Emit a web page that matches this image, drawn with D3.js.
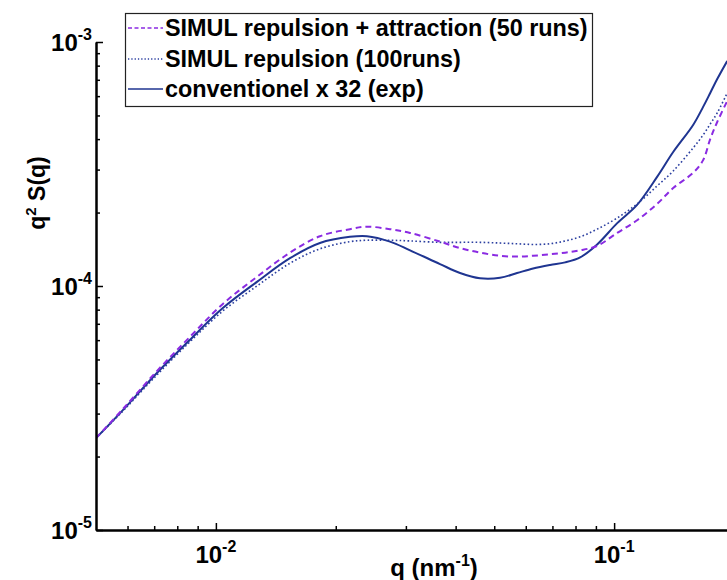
<!DOCTYPE html>
<html>
<head>
<meta charset="utf-8">
<script src="https://cdn.jsdelivr.net/npm/d3@7"></script>
<style>
  html, body { margin: 0; padding: 0; background: #fff; }
  svg { display: block; }
  text { font-family: "Liberation Sans", Arial, sans-serif; font-weight: bold; fill: #000; }
</style>
</head>
<body>
<svg id="chart" width="727" height="580"></svg>
<script>
// ---- data ----
const q = [0.00500, 0.00584, 0.00711, 0.00860, 0.01041, 0.01268, 0.01535, 0.01825, 0.02171, 0.02395,
           0.02736, 0.03073, 0.03654, 0.04103, 0.04606, 0.05171, 0.05706, 0.06259, 0.06906, 0.07534,
           0.08216, 0.09065, 0.1018, 0.1142, 0.1282, 0.1407, 0.1579, 0.1673, 0.1743, 0.1815, 0.1923];
const simRepAttr = [2.38e-5, 3.13e-5, 4.48e-5, 6.18e-5, 8.44e-5, 1.09e-4, 1.37e-4, 1.60e-4, 1.71e-4, 1.75e-4,
                    1.71e-4, 1.65e-4, 1.52e-4, 1.43e-4, 1.37e-4, 1.33e-4, 1.32e-4, 1.33e-4, 1.35e-4, 1.37e-4,
                    1.40e-4, 1.46e-4, 1.65e-4, 1.86e-4, 2.17e-4, 2.52e-4, 2.91e-4, 3.28e-4, 4.00e-4, 4.70e-4, 5.73e-4];
const simRep = [2.38e-5, 3.07e-5, 4.32e-5, 5.90e-5, 7.90e-5, 1.00e-4, 1.24e-4, 1.42e-4, 1.52e-4, 1.54e-4,
                1.54e-4, 1.53e-4, 1.51e-4, 1.51e-4, 1.51e-4, 1.50e-4, 1.49e-4, 1.48e-4, 1.49e-4, 1.53e-4,
                1.59e-4, 1.71e-4, 1.90e-4, 2.17e-4, 2.57e-4, 2.96e-4, 3.68e-4, 4.16e-4, 4.61e-4, 5.12e-4, 6.18e-4];
const conventionel = [2.38e-5, 3.10e-5, 4.40e-5, 6.01e-5, 8.12e-5, 1.04e-4, 1.30e-4, 1.50e-4, 1.59e-4, 1.60e-4,
                      1.52e-4, 1.40e-4, 1.23e-4, 1.13e-4, 1.075e-4, 1.08e-4, 1.13e-4, 1.18e-4, 1.22e-4, 1.25e-4,
                      1.31e-4, 1.48e-4, 1.81e-4, 2.15e-4, 2.80e-4, 3.54e-4, 4.57e-4, 5.42e-4, 6.18e-4, 7.05e-4, 8.36e-4];
const seriesNames = ["SIMUL repulsion + attraction (50 runs)", "SIMUL repulsion (100runs)", "conventionel x 32 (exp)"];
const xMajorTicks = [0.01, 0.1];
const xMajorExp = ["-2", "-1"];
const xMinorTicks = [0.006, 0.007, 0.008, 0.009, 0.02, 0.03, 0.04, 0.05, 0.06, 0.07, 0.08, 0.09];
const yMajorTicks = [1e-5, 1e-4, 1e-3];
const yMajorExp = ["-5", "-4", "-3"];
const yMinorTicks = [2e-5, 3e-5, 4e-5, 5e-5, 6e-5, 7e-5, 8e-5, 9e-5, 2e-4, 3e-4, 4e-4, 5e-4, 6e-4, 7e-4, 8e-4, 9e-4];

// ---- layout ----
const svg = d3.select("#chart");
const L = 96, R = 734, T = 42, B = 530;
const x = d3.scaleLog().domain([0.005, 0.2]).range([L, R]);
const y = d3.scaleLog().domain([1e-5, 1e-3]).range([B, T]);

const styles = [
  { data: simRepAttr, color: "#8a2be2", width: 2, dash: "6,4" },
  { data: simRep, color: "#2b3fa0", width: 1.6, dash: "1.6,2.4" },
  { data: conventionel, color: "#1f3591", width: 2, dash: null }
];

svg.append("clipPath").attr("id", "clip")
  .append("rect").attr("x", L).attr("y", T).attr("width", R - L).attr("height", B - T);

const line = d3.line().x(d => x(d[0])).y(d => y(d[1])).curve(d3.curveCatmullRom.alpha(0.5));
const plot = svg.append("g").attr("clip-path", "url(#clip)");
[2, 1, 0].forEach(i => {
  const s = styles[i];
  plot.append("path")
    .datum(q.map((v, k) => [v, s.data[k]]))
    .attr("fill", "none")
    .attr("stroke", s.color)
    .attr("stroke-width", s.width)
    .attr("stroke-dasharray", s.dash)
    .attr("d", line);
});

// ---- axes ----
function styleAxis(g) {
  g.selectAll("path.domain").attr("stroke", "#000").attr("stroke-width", 2);
  g.selectAll(".tick line").attr("stroke", "#000").attr("stroke-width", 1.5);
  g.selectAll(".tick text").remove();
}
svg.append("g").attr("transform", `translate(0,${B})`)
  .call(d3.axisBottom(x).tickValues(xMinorTicks).tickSizeInner(-4).tickSizeOuter(0).tickFormat(""))
  .call(styleAxis);
svg.append("g").attr("transform", `translate(0,${B})`)
  .call(d3.axisBottom(x).tickValues(xMajorTicks).tickSizeInner(-7).tickSizeOuter(0).tickFormat(""))
  .call(styleAxis);
svg.append("g").attr("transform", `translate(${L},0)`)
  .call(d3.axisLeft(y).tickValues(yMinorTicks).tickSizeInner(-4).tickSizeOuter(0).tickFormat(""))
  .call(styleAxis);
svg.append("g").attr("transform", `translate(${L},0)`)
  .call(d3.axisLeft(y).tickValues(yMajorTicks).tickSizeInner(-7).tickSizeOuter(0).tickFormat(""))
  .call(styleAxis);

// tick labels with superscripts
xMajorTicks.forEach((v, i) => {
  const t = svg.append("text").attr("x", x(v)).attr("y", 563).attr("text-anchor", "middle").style("font-size", "24px");
  t.append("tspan").text("10");
  t.append("tspan").attr("dy", -11).style("font-size", "16px").text(xMajorExp[i]);
});
yMajorTicks.forEach((v, i) => {
  const t = svg.append("text").attr("x", L - 4).attr("y", y(v) + 9).attr("text-anchor", "end").style("font-size", "24px");
  t.append("tspan").text("10");
  t.append("tspan").attr("dy", -11).style("font-size", "16px").text(yMajorExp[i]);
});

// axis titles
const xt = svg.append("text").attr("x", 434).attr("y", 576).attr("text-anchor", "middle").style("font-size", "24px");
xt.append("tspan").text("q (nm");
xt.append("tspan").attr("dy", -10).style("font-size", "16px").text("-1");
xt.append("tspan").attr("dy", 10).text(")");

const yt = svg.append("text").attr("transform", "translate(45,193) rotate(-90)").attr("text-anchor", "middle").style("font-size", "23px");
yt.append("tspan").text("q");
yt.append("tspan").attr("dy", -9).style("font-size", "15px").text("2");
yt.append("tspan").attr("dy", 9).text(" S(q)");

// ---- legend ----
const lg = svg.append("g");
lg.append("rect").attr("x", 125.5).attr("y", 13.5).attr("width", 467).attr("height", 93)
  .attr("fill", "#fff").attr("stroke", "#222").attr("stroke-width", 1.2);
const rowY = [28, 59, 89];
seriesNames.forEach((name, i) => {
  const s = styles[i];
  lg.append("line").attr("x1", 128).attr("x2", 163).attr("y1", rowY[i]).attr("y2", rowY[i])
    .attr("stroke", s.color).attr("stroke-width", i === 1 ? 1.4 : 1.6).attr("stroke-dasharray", i === 0 ? "4,2.5" : (i === 1 ? "1.3,2" : null));
  lg.append("text").attr("x", 165).attr("y", rowY[i] + 8).style("font-size", "23.4px").text(name);
});
</script>
</body>
</html>
